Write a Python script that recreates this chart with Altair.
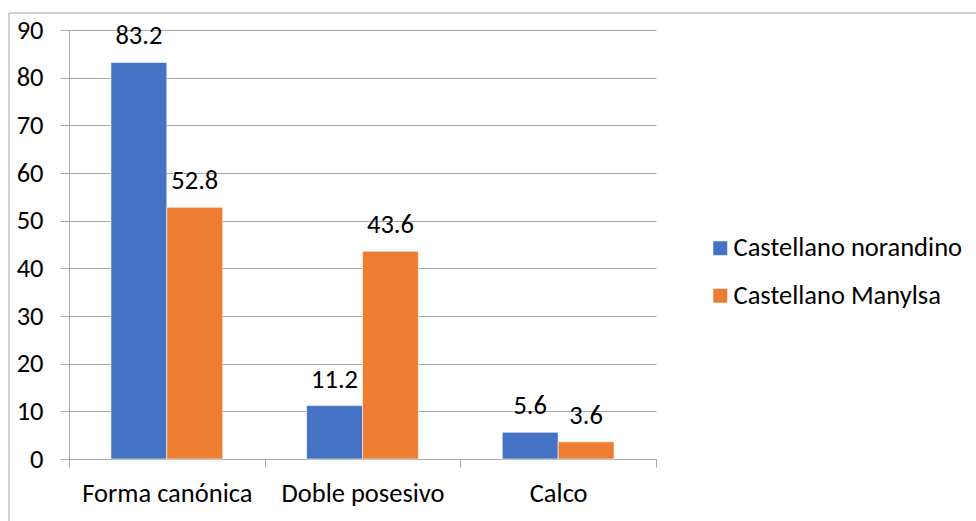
import altair as alt
import pandas as pd

categories = ["Forma canónica", "Doble posesivo", "Calco"]
series = ["Castellano norandino", "Castellano Manylsa"]
norandino = [83.2, 11.2, 5.6]
manylsa = [52.8, 43.6, 3.6]
colors = ["#4472C4", "#ED7D31"]

rows = []
for cat, a, b in zip(categories, norandino, manylsa):
    rows.append({"categoria": cat, "serie": series[0], "valor": a})
    rows.append({"categoria": cat, "serie": series[1], "valor": b})
df = pd.DataFrame(rows)

FONT = "Carlito, Lato"
FS = 26.5
GRID = "#ababab"

base = alt.Chart(df).encode(
    x=alt.X(
        "categoria:N",
        sort=categories,
        title=None,
        scale=alt.Scale(paddingInner=0, paddingOuter=0),
        axis=alt.Axis(
            labelAngle=0,
            labelFontSize=FS,
            labelFont=FONT,
            labelColor="#000000",
            labelPadding=13,
            tickBand="extent",
            tickSize=8,
            tickColor=GRID,
            domainColor=GRID,
            grid=False,
        ),
    ),
    xOffset=alt.XOffset(
        "serie:N", sort=series, scale=alt.Scale(paddingOuter=0.75, paddingInner=0)
    ),
    y=alt.Y(
        "valor:Q",
        title=None,
        scale=alt.Scale(domain=[0, 90], nice=False),
        axis=alt.Axis(
            values=list(range(0, 91, 10)),
            labelFontSize=FS,
            labelFont=FONT,
            labelColor="#000000",
            labelPadding=17,
            tickSize=9,
            tickColor=GRID,
            domainColor=GRID,
            gridColor=GRID,
        ),
    ),
)

bars = base.mark_bar(stroke="white", strokeWidth=0.6).encode(
    color=alt.Color(
        "serie:N",
        sort=series,
        scale=alt.Scale(domain=series, range=colors),
        legend=alt.Legend(
            title=None,
            orient="none",
            legendX=638,
            legendY=205,
            symbolType="square",
            symbolSize=196,
            symbolStrokeWidth=0,
            labelFontSize=FS,
            labelFont=FONT,
            labelColor="#000000",
            labelOffset=0,
            labelLimit=0,
            rowPadding=20.5,
        ),
    )
)

labels = base.mark_text(
    baseline="alphabetic", dy=-18, fontSize=FS, font=FONT, color="#000000"
).encode(text=alt.Text("valor:Q", format=".1f"))

frame = (
    alt.Chart(pd.DataFrame({"k": [0]}))
    .mark_rect(fill="transparent", stroke="#a6a6a6", strokeWidth=1)
    .encode(
        x=alt.value(-60),
        y=alt.value(-17),
        x2=alt.value(960),
        y2=alt.value(560),
    )
)

chart = (
    alt.layer(frame, bars, labels)
    .properties(
        width=587,
        height=429,
        autosize=alt.AutoSizeParams(type="none"),
        padding={"left": 69, "top": 30, "right": 320, "bottom": 62},
        background="white",
    )
    .configure_view(stroke=None)
    .configure_axis(gridWidth=1, domainWidth=1, tickWidth=1)
)

chart.save("out.html", embed_options={"renderer": "svg", "actions": False})
